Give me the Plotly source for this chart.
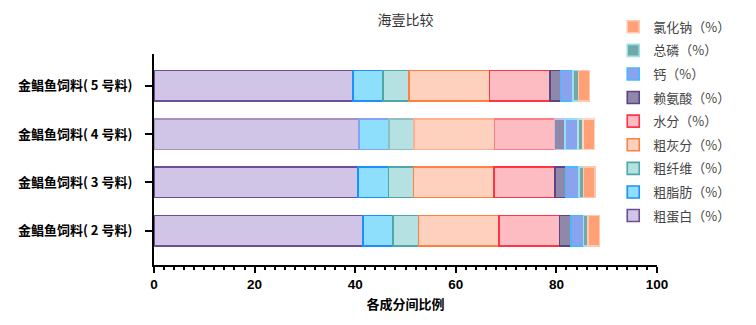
import plotly.graph_objects as go

categories = ["金鲳鱼饲料( 2 号料)", "金鲳鱼饲料( 3 号料)", "金鲳鱼饲料( 4 号料)", "金鲳鱼饲料( 5 号料)"]

series_names = ["粗蛋白（%）", "粗脂肪（%）", "粗纤维（%）", "粗灰分（%）", "水分（%）",
                "赖氨酸（%）", "钙（%）", "总磷（%）", "氯化钠（%）"]

crude_protein = [41.5, 40.6, 40.7, 39.6]
crude_fat = [6.0, 6.0, 6.0, 5.9]
crude_fiber = [5.1, 5.0, 5.0, 5.2]
crude_ash = [16.0, 16.0, 16.0, 16.0]
moisture = [12.0, 12.1, 11.9, 12.0]
lysine = [2.3, 2.1, 2.1, 2.1]
calcium = [2.45, 2.65, 2.65, 2.5]
phosphorus = [0.95, 0.9, 0.9, 1.1]
sodium_chloride = [2.25, 2.3, 2.3, 2.2]

values = [crude_protein, crude_fat, crude_fiber, crude_ash, moisture,
          lysine, calcium, phosphorus, sodium_chloride]

fills = ["#d1c5e7", "#8ddffc", "#b6e1e3", "#fdd1bd", "#fdbcc1",
         "#8f88a9", "#8aa3ef", "#6faaa9", "#ffa077"]
borders = ["#6b4f94", "#1e8fff", "#4fa6a6", "#ff8040", "#ff3545",
           "#5d4388", "#48b8ff", "#9ee0ea", "#ffc9b0"]
borders_light = ["#a393ba", "#8aa0f2", "#8fc0c0", "#ffb08f", "#ff7b86",
                 "#c9bde4", "#8fe0fb", "#b3e3e6", "#ffd6c6"]

fig = go.Figure()
n = len(series_names)
for i, (name, vals) in enumerate(zip(series_names, values)):
    line_cols = [borders[i], borders[i], borders_light[i], borders[i]]
    fig.add_trace(go.Bar(
        y=categories, x=vals, name=name, orientation="h",
        legendgroup=name, legendrank=n - i,
        marker=dict(color=fills[i], line=dict(color=line_cols, width=1.6)),
    ))

fig.update_layout(
    barmode="stack",
    bargap=0.37,
    width=756, height=325,
    margin=dict(l=154, r=99, t=51, b=60),
    paper_bgcolor="white", plot_bgcolor="white",
    font=dict(family="Noto Sans CJK SC, Liberation Sans, Arial", color="#222"),
    title=dict(text="海壹比较", x=0.5, xref="paper", xanchor="center", y=0.937, yanchor="middle",
               font=dict(size=14, color="#333")),
    legend=dict(x=0.913, xanchor="left", y=1.2, yanchor="top",
                traceorder="grouped", tracegroupgap=3.7, maxheight=400,
                font=dict(size=13, color="#444"), bgcolor="rgba(0,0,0,0)"),
    xaxis=dict(range=[0, 100], tickvals=[0, 20, 40, 60, 80, 100],
               ticks="outside", ticklen=6, tickwidth=2, tickcolor="black",
               showline=True, linecolor="black", linewidth=2, showgrid=False, zeroline=False,
               minor=dict(dtick=2, ticks="outside", ticklen=3, tickwidth=1.5, tickcolor="black", showgrid=False),
               tickfont=dict(size=13.5, family="Liberation Sans, Arial", color="black", weight="bold"),
               title=dict(text="各成分间比例", font=dict(size=13, color="black", weight="bold"), standoff=9)),
    yaxis=dict(type="category", categoryorder="array", categoryarray=categories,
               range=[-0.71, 3.66],
               ticks="outside", ticklen=7, tickwidth=2, tickcolor="black",
               showline=True, linecolor="black", linewidth=2, showgrid=False, zeroline=False,
               tickfont=dict(size=13, color="black", weight="bold"), ticklabelstandoff=10),
)

fig.write_html("out.html")
